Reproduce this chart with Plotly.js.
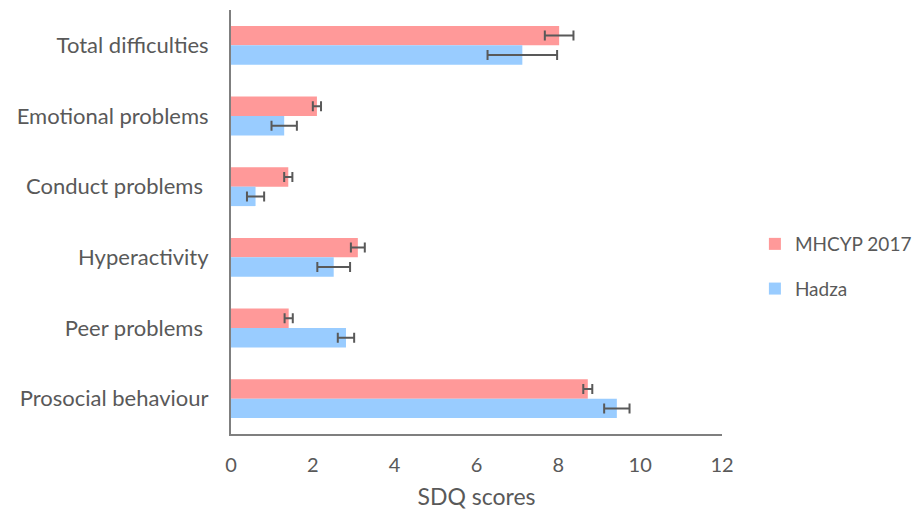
<!DOCTYPE html>
<html>
<head>
<meta charset="utf-8">
<script src="https://cdn.plot.ly/plotly-3.0.1.min.js"></script>
<style>html,body{margin:0;padding:0;background:#fff;}#chart{width:920px;height:514px;}</style>
</head>
<body>
<div id="chart"></div>
<script>
const categories = ["Total difficulties", "Emotional problems", "Conduct problems ", "Hyperactivity", "Peer problems ", "Prosocial behaviour"];
const seriesNames = ["MHCYP 2017", "Hadza"];
const mhcypValues = [8.02, 2.10, 1.40, 3.10, 1.41, 8.72];
const mhcypErrors = [0.35, 0.10, 0.10, 0.17, 0.10, 0.11];
const hadzaValues = [7.12, 1.30, 0.60, 2.51, 2.81, 9.43];
const hadzaErrors = [0.85, 0.31, 0.21, 0.40, 0.20, 0.31];
const xTicks = [0, 2, 4, 6, 8, 10, 12];

const font = "Lato, 'Open Sans', sans-serif";
const textColor = "#595959";

const errStyle = {type: "data", visible: true, color: "#595959", thickness: 2, width: 5};

const traces = [
  {type: "bar", orientation: "h", name: seriesNames[0], y: categories, x: mhcypValues,
   error_x: Object.assign({array: mhcypErrors}, errStyle),
   marker: {color: "#ff9999"}, legendgroup: "a"},
  {type: "bar", orientation: "h", name: seriesNames[1], y: categories, x: hadzaValues,
   error_x: Object.assign({array: hadzaErrors}, errStyle),
   marker: {color: "#99ccff"}, legendgroup: "b"}
];

const layout = {
  width: 920, height: 514,
  margin: {l: 231, r: 198, t: 10, b: 80, autoexpand: false},
  paper_bgcolor: "#ffffff", plot_bgcolor: "#ffffff",
  font: {family: font, color: textColor, size: 18},
  barmode: "group", bargap: 0.45, bargroupgap: 0,
  showlegend: true,
  legend: {x: 1.067, xanchor: "left", y: 0.395, yanchor: "middle",
           traceorder: "grouped", tracegroupgap: 17,
           font: {family: font, size: 19, color: textColor}},
  xaxis: {range: [0, 12], tickvals: xTicks, ticktext: xTicks.map(String),
          showgrid: false, zeroline: false, showline: true, linecolor: "#7f7f7f", linewidth: 2,
          ticks: "", ticklabelstandoff: 12, automargin: false,
          tickfont: {family: font, size: 20, color: textColor},
          title: {text: "SDQ scores", font: {family: font, size: 23, color: textColor}, standoff: 14}},
  yaxis: {autorange: "reversed", type: "category", automargin: false,
          showgrid: false, zeroline: false, showline: true, linecolor: "#7f7f7f", linewidth: 2,
          ticks: "", ticklabelstandoff: 16,
          tickfont: {family: font, size: 22, color: textColor}}
};

Plotly.newPlot("chart", traces, layout, {displayModeBar: false, staticPlot: true});
</script>
</body>
</html>
